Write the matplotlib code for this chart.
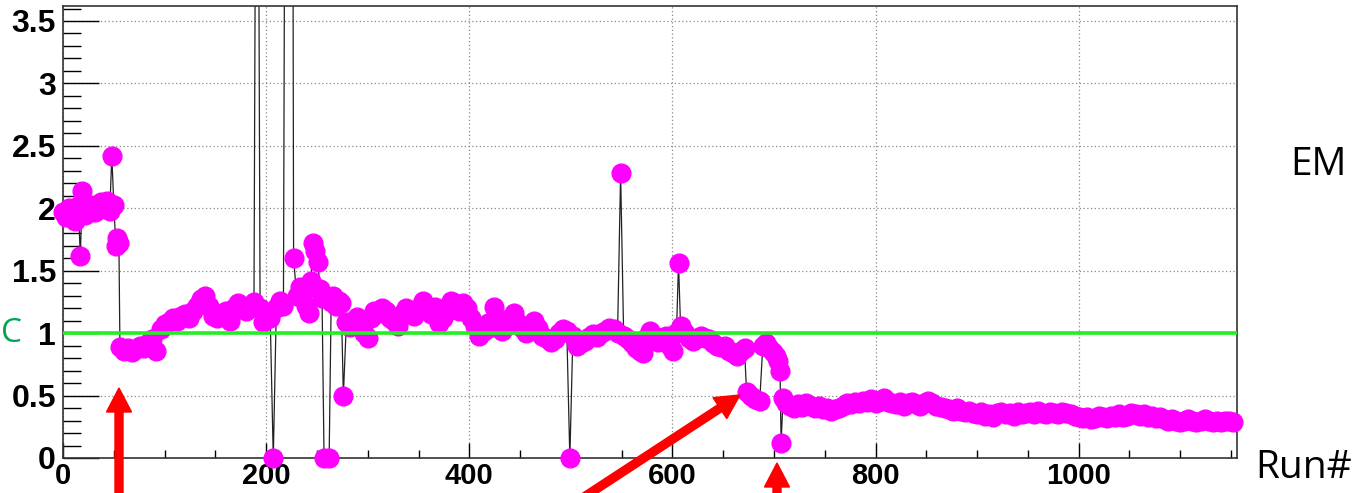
''' EM ratio per run '''

import matplotlib.pyplot as plt
from matplotlib.patches import FancyArrow
from matplotlib.transforms import IdentityTransform
import numpy as np

# run numbers and measured ratio (values > 3.6 are off the top of the frame)
runs = [0, 3, 6, 9, 12, 15, 17, 19, 22, 25, 28, 31, 34, 37, 40, 43, 46, 48, 50, 52, 53, 55,
        56, 60, 64, 68, 72, 76, 80, 84, 88, 92, 96, 100, 104, 108, 112, 116, 120, 124, 128,
        132, 136, 140, 144, 148, 152, 156, 160, 164, 168, 172, 176, 180, 184, 188,
        191, 194, 197, 200, 204, 207, 210, 214, 217, 219.5, 225.5,
        227, 230, 233, 236, 239, 242, 244, 246, 248, 251, 253, 255, 257, 262, 264, 266, 269,
        272, 274, 276, 279, 283, 286, 289, 293, 296, 300, 303, 306, 310, 314, 318, 322, 326,
        330, 334, 338, 342, 346, 350, 354, 358, 362, 366, 370, 374, 378, 382, 386, 390, 394,
        398, 402, 406, 410, 414, 418, 422, 424, 428, 432, 436, 440, 444, 448, 452, 456, 460,
        464, 468, 472, 476, 480, 484, 488, 492, 496, 499, 502, 506, 510, 514, 518, 522, 526,
        530, 534, 538, 542, 546, 549, 552, 556, 560, 564, 568, 571, 574, 578, 582, 586, 590,
        594, 598, 601, 604, 606, 608, 612, 616, 620, 624, 628, 632, 636, 640, 644, 648, 652,
        656, 660, 664, 668, 671, 673, 677, 681, 686, 689, 692, 695, 699, 702, 704, 706, 707,
        709, 712, 716, 720, 724, 728, 732, 736, 740, 744, 748, 752, 756, 760, 764, 768, 772,
        776, 780, 784, 788, 792, 796, 800, 804, 808, 812, 816, 820, 824, 828, 832, 836, 840,
        844, 848, 852, 856, 860, 864, 868, 872, 876, 880, 884, 888, 892, 896, 900, 904, 908,
        912, 916, 920, 924, 928, 932, 936, 940, 944, 948, 952, 956, 960, 964, 968, 972, 976,
        980, 984, 988, 992, 996, 1000, 1004, 1008, 1012, 1016, 1020, 1024, 1028, 1032, 1036,
        1040, 1044, 1048, 1052, 1056, 1060, 1064, 1068, 1072, 1076, 1080, 1084, 1088, 1092,
        1096, 1100, 1104, 1108, 1112, 1116, 1120, 1124, 1128, 1132, 1136, 1140, 1144, 1148, 1152]

ratio = [1.97, 1.93, 2.0, 1.95, 1.9, 2.02, 1.62, 2.14, 1.95, 1.98, 2.03, 1.97, 2.0, 2.05, 2.02, 2.06, 1.98, 2.42, 2.03, 1.70, 1.76, 1.72,
         0.89, 0.86, 0.88, 0.85, 0.87, 0.9, 0.88, 0.92, 0.95, 0.86, 1.03, 1.07, 1.09, 1.12, 1.1, 1.14, 1.15, 1.12, 1.18,
         1.22, 1.27, 1.3, 1.22, 1.14, 1.12, 1.15, 1.18, 1.1, 1.2, 1.24, 1.22, 1.18, 1.2, 1.25,
         8.0, 1.2, 1.09, 1.15, 1.12, 0.0, 1.2, 1.26, 1.22, 8.0, 8.0,
         1.6, 1.3, 1.37, 1.32, 1.22, 1.16, 1.42, 1.72, 1.66, 1.57, 1.35, 1.28, 0.0, 0.0, 1.25, 1.3, 1.22,
         1.26, 1.24, 0.5, 1.09, 1.05, 1.1, 1.13, 1.05, 1.0, 0.96, 1.12, 1.18, 1.16, 1.2, 1.18, 1.12, 1.1,
         1.06, 1.15, 1.2, 1.18, 1.14, 1.2, 1.26, 1.2, 1.15, 1.21, 1.08, 1.12, 1.18, 1.26, 1.24, 1.18, 1.24,
         1.2, 1.12, 1.06, 0.98, 1.02, 1.08, 1.05, 1.21, 1.1, 1.02, 1.06, 1.12, 1.16, 1.08, 1.04, 1.0, 1.06,
         1.1, 1.04, 0.98, 0.96, 0.93, 0.95, 1.0, 1.03, 1.02, 0.0, 0.98, 0.9, 0.92, 0.94, 0.97, 0.99, 0.97,
         1.0, 1.02, 1.04, 1.03, 1.0, 2.28, 0.98, 0.95, 0.92, 0.88, 0.86, 0.84, 0.96, 1.02, 0.98, 0.93, 0.96,
         0.98, 0.9, 0.86, 1.0, 1.56, 1.06, 1.0, 0.96, 0.94, 0.96, 0.98, 0.96, 0.95, 0.92, 0.9, 0.89, 0.9,
         0.86, 0.84, 0.82, 0.86, 0.88, 0.53, 0.5, 0.47, 0.46, 0.9, 0.92, 0.88, 0.85, 0.82, 0.78, 0.7, 0.12,
         0.48, 0.44, 0.42, 0.4, 0.43, 0.41, 0.44, 0.42, 0.4, 0.42, 0.39, 0.4, 0.38, 0.39, 0.4, 0.42, 0.44,
         0.43, 0.45, 0.44, 0.46, 0.45, 0.47, 0.44, 0.46, 0.48, 0.45, 0.44, 0.43, 0.45, 0.42, 0.44, 0.45, 0.43,
         0.42, 0.44, 0.46, 0.44, 0.42, 0.41, 0.4, 0.39, 0.38, 0.4, 0.38, 0.37, 0.38, 0.36, 0.35, 0.37, 0.34,
         0.35, 0.33, 0.36, 0.37, 0.35, 0.36, 0.34, 0.37, 0.35, 0.36, 0.37, 0.35, 0.38, 0.36, 0.35, 0.37, 0.36,
         0.35, 0.37, 0.36, 0.35, 0.34, 0.33, 0.32, 0.33, 0.31, 0.32, 0.34, 0.33, 0.32, 0.34, 0.33,
         0.35, 0.33, 0.34, 0.36, 0.35, 0.34, 0.35, 0.33, 0.34, 0.32, 0.33, 0.31, 0.3, 0.31,
         0.3, 0.29, 0.3, 0.31, 0.3, 0.29, 0.3, 0.31, 0.3, 0.29, 0.3, 0.29, 0.3, 0.3, 0.29]

reference_level = 1.0

x_ticks = [0, 200, 400, 600, 800, 1000]
y_ticks = [0, 0.5, 1, 1.5, 2, 2.5, 3, 3.5]
y_ticklabels = ['0', '0.5', '1', '1.5', '2', '2.5', '3', '3.5']

runs = np.array(runs)
ratio = np.array(ratio)
on_scale = ratio < 3.6

fig = plt.figure(figsize=(13.56, 4.93), dpi=100)
ax = fig.add_axes([0.0465, 0.071, 0.8658, 0.9168])

# connecting line (clipped) + markers (not clipped, ROOT style)
ax.plot(runs, ratio, color='#222222', lw=0.9, zorder=2)
ax.plot(runs[on_scale], ratio[on_scale], 'o', ms=13.5, color='#ff00ff', mec='#ff00ff',
        clip_on=False, zorder=3)
ax.axhline(reference_level, color='#22ee22', lw=2.6, zorder=4)

ax.set_xlim(0, 1156)
ax.set_ylim(0, 3.62)

ax.set_xticks(x_ticks)
ax.set_xticks(np.arange(0, 1156, 50), minor=True)
ax.set_yticks(y_ticks)
ax.set_yticklabels(y_ticklabels)
ax.set_yticks(np.arange(0, 3.61, 0.1), minor=True)

ax.tick_params(axis='y', which='major', direction='in', length=26, width=1, pad=5)
ax.tick_params(axis='y', which='minor', direction='in', length=13, width=1)
ax.tick_params(axis='x', which='major', direction='in', length=11, width=1, pad=3)
ax.tick_params(axis='x', which='minor', direction='in', length=6, width=1)
for lab in ax.get_yticklabels():
    lab.set_fontfamily('Liberation Sans')
    lab.set_fontweight('bold')
    lab.set_fontsize(23)
for lab in ax.get_xticklabels():
    lab.set_fontfamily('Liberation Sans')
    lab.set_fontweight('bold')
    lab.set_fontsize(21)

ax.grid(True, which='major', color='#888888', linestyle=(0, (1, 2)), lw=0.9)
for s in ax.spines.values():
    s.set_color('#333333')
    s.set_linewidth(1.2)

# side labels
fig.text(1318 / 1356, 1 - 165 / 493, 'EM', fontsize=28, family='Open Sans',
         ha='center', va='center')
fig.text(1304 / 1356, 1 - 468 / 493, 'Run#', fontsize=28, family='Open Sans',
         ha='center', va='center')
fig.text(1 / 1356, 1 - 334 / 493, 'C', fontsize=24, family='Open Sans',
         color='#00a651', ha='left', va='center')

# red arrows (figure pixels)
arrows = [((119, -10), (119, 105)), ((578, -8), (740, 98)), ((777, -10), (777, 30))]
for (x0, y0), (x1, y1) in arrows:
    fig.add_artist(FancyArrow(x0, y0, x1 - x0, y1 - y0, width=8, head_width=25,
                              head_length=24, length_includes_head=True,
                              color='#ff0000', transform=IdentityTransform()))

fig.savefig('out.png', dpi=100)
